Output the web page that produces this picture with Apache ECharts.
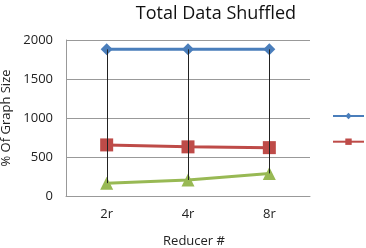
<!DOCTYPE html>
<html>
<head>
<meta charset="utf-8">
<script src="https://cdn.jsdelivr.net/npm/echarts@6/dist/echarts.min.js"></script>
<style>html,body{margin:0;padding:0;background:#fff}#c{width:366px;height:248px}</style>
</head>
<body>
<div id="c"></div>
<script>
var categories = ['2r', '4r', '8r'];
var seriesNames = ['A', 'B', 'C'];
var blueValues = [1880, 1880, 1880];
var redValues = [655, 630, 620];
var greenValues = [165, 205, 290];
var yTicks = [0, 500, 1000, 1500, 2000];

var hiLo = categories.map(function (c, i) {
  var vals = [blueValues[i], redValues[i], greenValues[i]];
  return [i, Math.max.apply(null, vals), Math.min.apply(null, vals)];
});

var font = '"Open Sans", "Liberation Sans", sans-serif';
var chart = echarts.init(document.getElementById('c'), null, {renderer: 'canvas'});
chart.setOption({
  animation: false,
  title: {
    text: 'Total Data Shuffled', left: 211, top: 0, textAlign: 'center',
    textStyle: {fontFamily: font, fontSize: 18, fontWeight: 'normal', color: '#111'}
  },
  grid: {left: 66, right: 56, top: 40, bottom: 52, containLabel: false, outerBoundsMode: 'none'},
  legend: {
    orient: 'vertical', left: 332, top: 112, padding: 0,
    itemWidth: 31, itemHeight: 8, itemGap: 18.5,
    formatter: function () { return ''; },
    data: [
      {name: seriesNames[0]},
      {name: seriesNames[1]},
      {name: seriesNames[2], itemStyle: {opacity: 0}, lineStyle: {opacity: 0}}
    ]
  },
  xAxis: {
    type: 'category', data: categories,
    name: 'Reducer #', nameLocation: 'middle', nameGap: 39,
    nameTextStyle: {fontFamily: font, fontSize: 13, color: '#222', padding: [0, 0, 0, 12]},
    axisLine: {lineStyle: {color: '#999'}},
    axisTick: {show: false},
    axisLabel: {fontFamily: font, fontSize: 13, color: '#222', margin: 12}
  },
  yAxis: {
    type: 'value', min: yTicks[0], max: yTicks[yTicks.length - 1], interval: 500,
    name: '% Of Graph Size', nameLocation: 'middle', nameGap: 48,
    nameTextStyle: {fontFamily: font, fontSize: 13, color: '#222'},
    axisLine: {show: true, lineStyle: {color: '#999'}},
    axisTick: {show: false},
    splitLine: {lineStyle: {color: '#999', width: 1}},
    axisLabel: {fontFamily: font, fontSize: 13, color: '#222', margin: 13,
      formatter: function (v) { return String(v); }}
  },
  series: [
    {
      name: seriesNames[0], type: 'line', data: blueValues,
      symbol: 'diamond', symbolSize: 12,
      lineStyle: {color: '#4a7ebb', width: 3}, itemStyle: {color: '#4a7ebb'}, z: 3
    },
    {
      name: seriesNames[1], type: 'line', data: redValues,
      symbol: 'rect', symbolSize: 13,
      lineStyle: {color: '#be4b48', width: 3}, itemStyle: {color: '#be4b48'}, z: 3
    },
    {
      name: seriesNames[2], type: 'line', data: greenValues,
      symbol: 'triangle', symbolSize: 13,
      lineStyle: {color: '#98b954', width: 3}, itemStyle: {color: '#98b954'}, z: 3
    },
    {
      type: 'custom', data: hiLo, z: 5, silent: true,
      renderItem: function (params, api) {
        var p1 = api.coord([api.value(0), api.value(1)]);
        var p2 = api.coord([api.value(0), api.value(2)]);
        return {
          type: 'line',
          shape: {x1: Math.round(p1[0]) + 0.5, y1: p1[1], x2: Math.round(p2[0]) + 0.5, y2: p2[1]},
          style: {stroke: '#222', lineWidth: 1}
        };
      }
    }
  ]
});
</script>
</body>
</html>
